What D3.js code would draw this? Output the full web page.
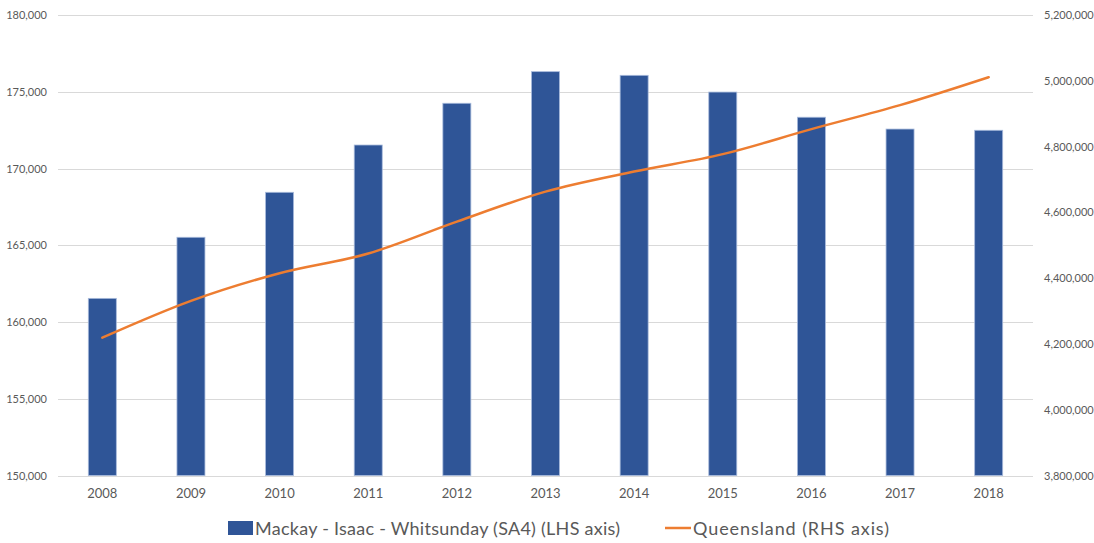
<!DOCTYPE html>
<html>
<head>
<meta charset="utf-8">
<script src="https://cdn.jsdelivr.net/npm/d3@7"></script>
<style>
  html, body { margin: 0; padding: 0; background: #fff; }
  svg { display: block; font-family: Lato, "Open Sans", sans-serif; }
</style>
</head>
<body>
<svg id="chart" width="1094" height="543"></svg>
<script>
// Population by year
const years = ["2008", "2009", "2010", "2011", "2012", "2013", "2014", "2015", "2016", "2017", "2018"];
const mackayPop = [161540, 165520, 168450, 171530, 174250, 176310, 176070, 174980, 173340, 172570, 172490];
const qldPop = [4219000, 4331000, 4415000, 4475000, 4572000, 4663000, 4724000, 4777000, 4853000, 4926000, 5011000];
const leftTicks = [150000, 155000, 160000, 165000, 170000, 175000, 180000];
const rightTicks = [3800000, 4000000, 4200000, 4400000, 4600000, 4800000, 5000000, 5200000];
const seriesNames = ["Mackay - Isaac - Whitsunday (SA4) (LHS axis)", "Queensland (RHS axis)"];

const W = 1094, H = 543;
const m = { left: 58, right: 61, top: 15, bottom: 67.5 };
const svg = d3.select("#chart");
const fmt = d3.format(",");

const x = d3.scaleBand().domain(years).range([m.left, W - m.right]).paddingInner(0.684).paddingOuter(0.342);
const yL = d3.scaleLinear().domain([150000, 180000]).range([H - m.bottom, m.top]);
const yR = d3.scaleLinear().domain([3800000, 5200000]).range([H - m.bottom, m.top]);

// gridlines
svg.append("g").selectAll("line").data(leftTicks).join("line")
  .attr("x1", m.left).attr("x2", W - m.right)
  .attr("y1", d => Math.round(yL(d)) + 0.5).attr("y2", d => Math.round(yL(d)) + 0.5)
  .attr("stroke", "#d9d9d9").attr("stroke-width", 1);

// left axis
const axL = svg.append("g").attr("transform", `translate(${m.left - 11},0)`)
  .call(d3.axisLeft(yL).tickValues(leftTicks).tickFormat(fmt).tickSize(0).tickPadding(0));
axL.select(".domain").remove();
axL.selectAll("text").attr("fill", "#595959").style("font-size", "11px").style("font-family", "Lato, sans-serif");

// right axis
const axR = svg.append("g").attr("transform", `translate(${W - m.right + 11},0)`)
  .call(d3.axisRight(yR).tickValues(rightTicks).tickFormat(fmt).tickSize(0).tickPadding(0));
axR.select(".domain").remove();
axR.selectAll("text").attr("fill", "#595959").style("font-size", "11px").style("font-family", "Lato, sans-serif");

// bars
svg.append("g").selectAll("rect").data(years).join("rect")
  .attr("x", d => x(d))
  .attr("y", (d, i) => yL(mackayPop[i]))
  .attr("width", x.bandwidth())
  .attr("height", (d, i) => yL(150000) - yL(mackayPop[i]))
  .attr("fill", "#2f5597")
  .attr("stroke", "#a9bbdc").attr("stroke-width", 0.8);

// x axis labels
const axX = svg.append("g").attr("transform", `translate(0,${H - m.bottom + 13})`)
  .call(d3.axisBottom(x).tickSize(0).tickPadding(0));
axX.select(".domain").remove();
axX.selectAll("text").attr("fill", "#595959").style("font-size", "13px").style("font-family", "Lato, sans-serif");

// Queensland line
const line = d3.line()
  .x((d, i) => x(years[i]) + x.bandwidth() / 2)
  .y(d => yR(d))
  .curve(d3.curveMonotoneX);
svg.append("path").datum(qldPop).attr("d", line)
  .attr("fill", "none").attr("stroke", "#ed7d31").attr("stroke-width", 2.5).attr("stroke-linecap", "round");

// legend
const lg = svg.append("g").style("font-size", "18px").style("font-family", "Lato, sans-serif");
lg.append("rect").attr("x", 228).attr("y", 521).attr("width", 25).attr("height", 14).attr("fill", "#2f5597");
lg.append("text").attr("x", 255).attr("y", 534.5).attr("fill", "#595959")
  .attr("textLength", 365).attr("lengthAdjust", "spacing").text(seriesNames[0]);
lg.append("line").attr("x1", 665).attr("x2", 691).attr("y1", 528).attr("y2", 528)
  .attr("stroke", "#ed7d31").attr("stroke-width", 2.5);
lg.append("text").attr("x", 693).attr("y", 534.5).attr("fill", "#595959")
  .attr("textLength", 196).attr("lengthAdjust", "spacing").text(seriesNames[1]);
</script>
</body>
</html>
